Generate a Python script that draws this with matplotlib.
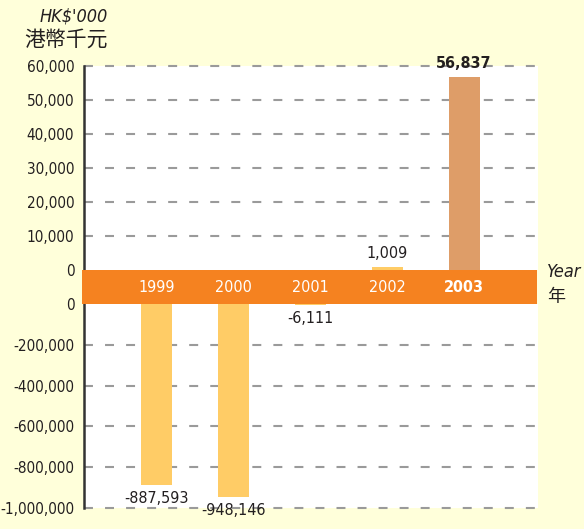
import matplotlib.pyplot as plt
from matplotlib.patches import Rectangle
from matplotlib.transforms import blended_transform_factory

years = ["1999", "2000", "2001", "2002", "2003"]
values = [-887593, -948146, -6111, 1009, 56837]
top_ticks = [0, 10000, 20000, 30000, 40000, 50000, 60000]
bottom_ticks = [0, -200000, -400000, -600000, -800000, -1000000]

bg = "#FFFFDA"
text_col = "#231F20"
bar_col = "#FFCC66"
last_col = "#DE9D68"
band_col = "#F58220"
cjk = ["Noto Sans CJK TC", "DejaVu Sans"]

plt.rcParams["font.family"] = ["DejaVu Sans"]
plt.rcParams["font.stretch"] = "condensed"

fig = plt.figure(figsize=(5.84, 5.29), dpi=100)
fig.patch.set_facecolor(bg)

W, H = 584, 529
left, right = 84 / W, 538 / W
ax_top = fig.add_axes([left, 1 - 270 / H, right - left, (270 - 66) / H])
ax_bot = fig.add_axes([left, 1 - 508 / H, right - left, (508 - 304) / H])

xs = list(range(len(years)))
colors = [bar_col] * (len(years) - 1) + [last_col]

for ax, ticks, lim in [(ax_top, top_ticks, (0, 60000)), (ax_bot, bottom_ticks, (-1000000, 0))]:
    ax.set_facecolor("white")
    ax.bar(xs, values, width=0.4, color=colors, zorder=3)
    ax.set_xlim(-0.94, 4.96)
    ax.set_ylim(*lim)
    ax.set_yticks(ticks)
    ax.set_yticklabels(["{:,}".format(t) for t in ticks])
    ax.set_xticks([])
    ax.tick_params(axis="y", length=0, pad=7, labelsize=11, labelcolor=text_col)
    for s in ["top", "right", "bottom"]:
        ax.spines[s].set_visible(False)
    ax.spines["left"].set_color("#333333")
    ax.spines["left"].set_linewidth(1.8)
    ax.spines["left"].set_zorder(5)
    for t in ticks:
        if t == 0:
            continue
        ax.axhline(t, color="#9a9a9a", linewidth=1.5, linestyle=(0, (4.3, 5.8)), zorder=1, clip_on=False)

# value labels
for x, v in zip(xs, values):
    if v > 0:
        bold = "bold" if x == len(xs) - 1 else "normal"
        ax_top.annotate("{:,}".format(v), (x, v), xytext=(0, 4), textcoords="offset points",
                        ha="center", va="bottom", fontsize=11.5, color=text_col, fontweight=bold)
    else:
        ax_bot.annotate("{:,}".format(v), (x, v), xytext=(0, -4), textcoords="offset points",
                        ha="center", va="top", fontsize=11.5, color=text_col)

# orange band with year labels
fig.add_artist(Rectangle((82 / W, 1 - 304 / H), (537 - 82) / W, 34 / H,
                         transform=fig.transFigure, facecolor=band_col, edgecolor="none", zorder=10))
trans = blended_transform_factory(ax_top.transData, fig.transFigure)
for x, y in zip(xs, years):
    bold = "bold" if x == len(xs) - 1 else "normal"
    fig.text(x, 1 - 287 / H, y, transform=trans, ha="center", va="center",
             color="white", fontsize=11.5, fontweight=bold, zorder=11)

fig.text(547 / W, 1 - 272 / H, "Year", ha="left", va="center", fontsize=13,
         style="italic", color=text_col)
fig.text(547 / W, 1 - 297 / H, "年", ha="left", va="center", fontsize=13,
         color=text_col, family=cjk)
fig.text(108 / W, 1 - 16 / H, "HK$'000", ha="right", va="center", fontsize=13,
         style="italic", color=text_col)
fig.text(108 / W, 1 - 40 / H, "港幣千元", ha="right", va="center", fontsize=15,
         color=text_col, family=cjk)

fig.savefig("out.png", dpi=100, facecolor=bg)
